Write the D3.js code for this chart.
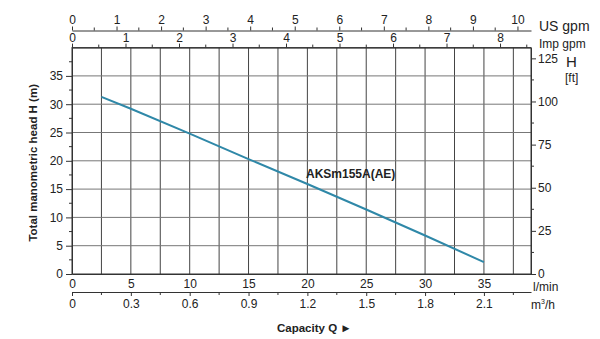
<!DOCTYPE html>
<html>
<head>
<meta charset="utf-8">
<script src="https://cdn.jsdelivr.net/npm/d3@7"></script>
<style>
  body { margin: 0; background: #fff; }
  text { font-family: "Liberation Sans", Arial, sans-serif; fill: #222; }
</style>
</head>
<body>
<svg width="600" height="339"></svg>
<script>
// pump curve AKSm155A(AE)
var flowLmin = [2.5, 5, 10, 15, 20, 25, 30, 35];
var headM = [31.3, 29.2, 24.8, 20.3, 15.9, 11.4, 6.8, 2.1];
var curveName = "AKSm155A(AE)";

var lminTicks = [0, 5, 10, 15, 20, 25, 30, 35];
var m3hTicks = [0, 0.3, 0.6, 0.9, 1.2, 1.5, 1.8, 2.1];
var usGpmTicks = [0, 1, 2, 3, 4, 5, 6, 7, 8, 9, 10];
var impGpmTicks = [0, 1, 2, 3, 4, 5, 6, 7, 8];
var headTicks = [0, 5, 10, 15, 20, 25, 30, 35];
var ftTicks = [0, 25, 50, 75, 100, 125];

var svg = d3.select("svg");
var pLeft = 72, pRight = 531, pTop = 47.6, pBottom = 274;

var x = d3.scaleLinear().domain([0, 39]).range([pLeft, pRight]);
var y = d3.scaleLinear().domain([0, 40]).range([pBottom, pTop]);
var xUs = d3.scaleLinear().domain([0, 39 / 3.785]).range([pLeft, pRight]);
var xImp = d3.scaleLinear().domain([0, 39 / 4.546]).range([pLeft, pRight]);
var xM3 = d3.scaleLinear().domain([0, 39 * 0.06]).range([pLeft, pRight]);
var yFt = d3.scaleLinear().domain([0, 40 * 3.2808]).range([pBottom, pTop]);

function step(a, b, s) { return d3.range(a, b + s / 2, s); }

// grid
svg.append("g").selectAll("line")
    .data(step(2.5, 37.5, 2.5)).enter().append("line")
    .attr("x1", function (d) { return x(d); }).attr("x2", function (d) { return x(d); })
    .attr("y1", pTop).attr("y2", pBottom)
    .attr("stroke", "#444").attr("stroke-width", 1);
svg.append("g").selectAll("line")
    .data(step(5, 35, 5)).enter().append("line")
    .attr("x1", pLeft).attr("x2", pRight)
    .attr("y1", function (d) { return y(d); }).attr("y2", function (d) { return y(d); })
    .attr("stroke", "#777").attr("stroke-width", 1);

// frame
svg.append("rect").attr("x", pLeft).attr("y", pTop)
    .attr("width", pRight - pLeft).attr("height", pBottom - pTop)
    .attr("fill", "none").attr("stroke", "#333").attr("stroke-width", 1);

function styleAxis(g, size) {
    g.select(".domain").attr("stroke", "#333");
    g.selectAll(".tick line").attr("stroke", "#333");
    g.selectAll("text").attr("font-size", size || 11).attr("fill", "#222")
        .style("font-family", "Liberation Sans, Arial, sans-serif");
}
function minor(g, scale, vals, orient, len) {
    g.selectAll(".mnr").data(vals).enter().append("line")
        .attr("stroke", "#333")
        .each(function (d) {
            var s = d3.select(this), p = scale(d);
            if (orient === "up") s.attr("x1", p).attr("x2", p).attr("y1", 0).attr("y2", -len);
            if (orient === "down") s.attr("x1", p).attr("x2", p).attr("y1", 0).attr("y2", len);
            if (orient === "left") s.attr("y1", p).attr("y2", p).attr("x1", 0).attr("x2", -len);
            if (orient === "right") s.attr("y1", p).attr("y2", p).attr("x1", 0).attr("x2", len);
        });
}

// left head axis
var gl = svg.append("g").attr("transform", "translate(" + pLeft + ",0)")
    .call(d3.axisLeft(y).tickValues(headTicks).tickSize(6).tickPadding(3).tickSizeOuter(0));
styleAxis(gl, 12);
minor(gl, y, step(2.5, 37.5, 5), "left", 3);

// right ft axis
var gr = svg.append("g").attr("transform", "translate(" + pRight + ",0)")
    .call(d3.axisRight(yFt).tickValues(ftTicks).tickSize(5).tickPadding(2).tickSizeOuter(0));
styleAxis(gr, 12);
minor(gr, yFt, step(12.5, 112.5, 25), "right", 3);

// bottom l/min axis
var gb = svg.append("g").attr("transform", "translate(0," + pBottom + ")")
    .call(d3.axisBottom(x).tickValues(lminTicks).tickSize(0).tickPadding(5).tickSizeOuter(0));
styleAxis(gb, 12);

// m3/h axis
var gm = svg.append("g").attr("transform", "translate(0,292)")
    .call(d3.axisBottom(xM3).tickValues(m3hTicks).tickSize(4).tickPadding(3).tickSizeOuter(0)
        .tickFormat(function (d) { return d === 0 ? "0" : d3.format(".1f")(d); }));
styleAxis(gm, 12);
minor(gm, xM3, step(0.15, 2.25, 0.3), "down", 3);

// top US gpm axis
var gu = svg.append("g").attr("transform", "translate(0,30.5)")
    .call(d3.axisTop(xUs).tickValues(usGpmTicks).tickSize(4).tickPadding(3).tickSizeOuter(0));
styleAxis(gu, 12);
minor(gu, xUs, step(0.5, 9.5, 1), "up", 3);

// top Imp gpm axis
var gi = svg.append("g").attr("transform", "translate(0," + pTop + ")")
    .call(d3.axisTop(xImp).tickValues(impGpmTicks).tickSize(4).tickPadding(2).tickSizeOuter(0));
styleAxis(gi, 12);
minor(gi, xImp, step(0.5, 8.5, 1), "up", 3);

// curve
var line = d3.line().x(function (d, i) { return x(flowLmin[i]); }).y(function (d) { return y(d); });
svg.append("path").datum(headM).attr("d", line)
    .attr("fill", "none").attr("stroke", "#2f88a8").attr("stroke-width", 2);

svg.append("text").attr("x", 306).attr("y", 178)
    .attr("font-size", 12).attr("font-weight", "bold").text(curveName);

// unit labels
svg.append("text").attr("x", 539).attr("y", 31).attr("font-size", 14).text("US gpm");
svg.append("text").attr("x", 539).attr("y", 48).attr("font-size", 12).text("Imp  gpm");
svg.append("text").attr("x", 566).attr("y", 67).attr("font-size", 15).text("H");
svg.append("text").attr("x", 565).attr("y", 82).attr("font-size", 12).text("[ft]");
svg.append("text").attr("x", 533).attr("y", 291).attr("font-size", 12).text("l/min");
var m3 = svg.append("text").attr("x", 531).attr("y", 309).attr("font-size", 12);
m3.append("tspan").text("m");
m3.append("tspan").attr("dy", -5).attr("font-size", 7).text("3");
m3.append("tspan").attr("dy", 5).text("/h");

svg.append("text").attr("x", 277).attr("y", 332)
    .attr("font-size", 11.5).attr("font-weight", "bold").text("Capacity Q  \u25BA");

svg.append("text")
    .attr("transform", "translate(37," + ((pTop + pBottom) / 2 + 2) + ") rotate(-90)")
    .attr("text-anchor", "middle").attr("font-size", 11.5).attr("font-weight", "bold")
    .text("Total manometric head H (m)");
</script>
</body>
</html>
